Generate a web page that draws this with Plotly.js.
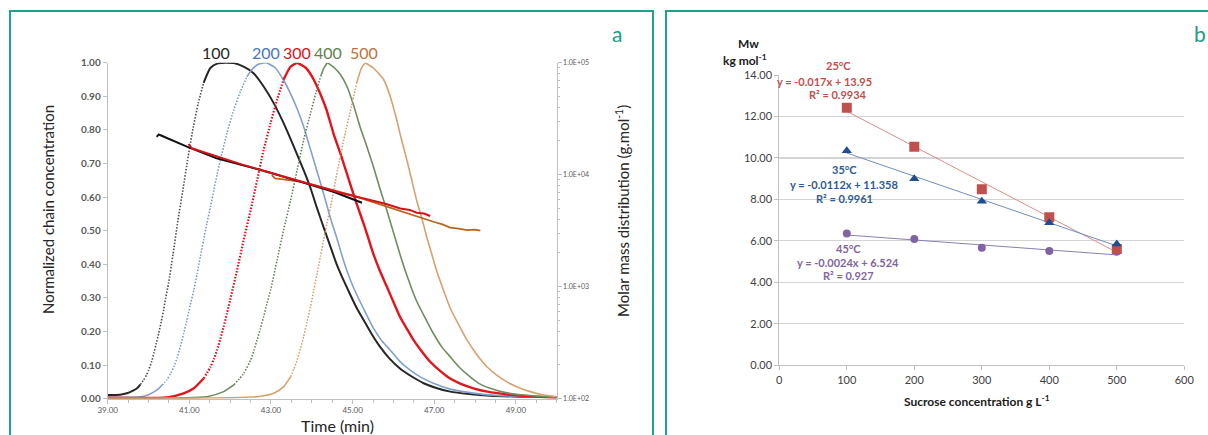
<!DOCTYPE html>
<html>
<head>
<meta charset="utf-8">
<script src="https://cdn.plot.ly/plotly-3.0.1.min.js"></script>
<style>html,body{margin:0;padding:0;background:#fff;}#chart{width:1208px;height:435px;}</style>
</head>
<body>
<div id="chart"></div>
<script>
// ---------- Panel a: normalized chain concentration vs time ----------
const c100RiseT = [39.0, 39.3, 39.47, 39.62, 39.72, 39.8, 39.88, 39.95, 40.0, 40.07, 40.13, 40.19, 40.25, 40.31, 40.37, 40.42, 40.49, 40.6, 40.72, 40.84, 40.97, 41.1, 41.22, 41.35, 41.52, 41.7, 41.9];
const c100RiseV = [0.011, 0.012, 0.016, 0.024, 0.031, 0.042, 0.056, 0.07, 0.085, 0.108, 0.135, 0.165, 0.195, 0.228, 0.264, 0.3, 0.343, 0.43, 0.53, 0.62, 0.72, 0.81, 0.88, 0.94, 0.985, 0.998, 1.0];
const c100FallT = [41.9, 42.09, 42.33, 42.58, 42.82, 43.07, 43.31, 43.56, 43.8, 43.96, 44.12, 44.29, 44.45, 44.61, 44.78, 44.94, 45.1, 45.27, 45.47, 45.67, 45.9, 46.16, 46.45, 46.74, 47.05, 47.39, 47.85, 48.37, 49.1, 50.0];
const c100FallV = [1.0, 0.999, 0.988, 0.968, 0.929, 0.879, 0.82, 0.75, 0.68, 0.63, 0.57, 0.51, 0.455, 0.40, 0.352, 0.31, 0.27, 0.234, 0.192, 0.155, 0.12, 0.09, 0.066, 0.046, 0.032, 0.021, 0.014, 0.009, 0.006, 0.004];

const c200RiseT = [39.0, 39.8, 40.0, 40.21, 40.33, 40.45, 40.54, 40.62, 40.7, 40.78, 40.86, 40.94, 41.02, 41.11, 41.19, 41.27, 41.35, 41.43, 41.52, 41.6, 41.68, 41.76, 41.92, 42.09, 42.25, 42.41, 42.55, 42.7, 42.9];
const c200RiseV = [0.004, 0.006, 0.012, 0.026, 0.04, 0.056, 0.075, 0.095, 0.122, 0.155, 0.193, 0.234, 0.278, 0.323, 0.372, 0.423, 0.473, 0.522, 0.572, 0.621, 0.667, 0.71, 0.79, 0.86, 0.914, 0.958, 0.982, 0.996, 1.0];
const c200FallT = [42.9, 43.1, 43.3, 43.47, 43.65, 43.8, 43.96, 44.12, 44.29, 44.45, 44.62, 44.78, 44.94, 45.1, 45.3, 45.51, 45.7, 45.92, 46.15, 46.41, 46.7, 46.98, 47.35, 47.72, 48.2, 48.78, 49.4, 50.0];
const c200FallV = [1.0, 0.985, 0.95, 0.91, 0.86, 0.81, 0.745, 0.68, 0.61, 0.54, 0.475, 0.41, 0.355, 0.31, 0.26, 0.21, 0.175, 0.145, 0.112, 0.085, 0.062, 0.046, 0.03, 0.021, 0.013, 0.008, 0.005, 0.004];

const c300RiseT = [39.0, 40.45, 40.86, 41.11, 41.35, 41.52, 41.6, 41.68, 41.76, 41.84, 41.92, 42.0, 42.17, 42.33, 42.5, 42.66, 42.82, 42.99, 43.15, 43.31, 43.48, 43.64];
const c300RiseV = [0.003, 0.004, 0.016, 0.031, 0.06, 0.095, 0.118, 0.145, 0.178, 0.214, 0.253, 0.294, 0.383, 0.472, 0.56, 0.65, 0.74, 0.82, 0.89, 0.95, 0.988, 1.0];
const c300FallT = [43.64, 43.85, 44.0, 44.2, 44.36, 44.53, 44.7, 44.86, 45.1, 45.3, 45.51, 45.67, 45.84, 46.0, 46.16, 46.33, 46.49, 46.7, 46.9, 47.15, 47.39, 47.65, 47.96, 48.3, 48.78, 49.4, 50.0];
const c300FallV = [1.0, 0.985, 0.96, 0.91, 0.86, 0.79, 0.73, 0.67, 0.58, 0.51, 0.43, 0.38, 0.333, 0.288, 0.244, 0.208, 0.175, 0.14, 0.11, 0.082, 0.06, 0.044, 0.031, 0.021, 0.013, 0.007, 0.004];

const c400RiseT = [39.0, 41.43, 41.84, 42.09, 42.33, 42.5, 42.58, 42.66, 42.74, 42.82, 42.9, 42.99, 43.15, 43.31, 43.48, 43.64, 43.8, 43.97, 44.1, 44.22, 44.3, 44.38];
const c400RiseV = [0.002, 0.006, 0.021, 0.041, 0.075, 0.115, 0.143, 0.175, 0.208, 0.244, 0.283, 0.323, 0.413, 0.502, 0.59, 0.68, 0.77, 0.85, 0.91, 0.96, 0.985, 1.0];
const c400FallT = [44.38, 44.55, 44.7, 44.86, 45.02, 45.18, 45.35, 45.51, 45.67, 45.84, 46.0, 46.16, 46.35, 46.57, 46.78, 46.98, 47.18, 47.39, 47.62, 47.88, 48.1, 48.37, 48.75, 49.19, 49.6, 50.0];
const c400FallV = [1.0, 0.985, 0.965, 0.93, 0.875, 0.81, 0.75, 0.69, 0.625, 0.56, 0.495, 0.43, 0.36, 0.29, 0.24, 0.194, 0.155, 0.125, 0.093, 0.065, 0.045, 0.031, 0.018, 0.011, 0.007, 0.004];

const c500RiseT = [39.0, 42.66, 43.07, 43.31, 43.48, 43.56, 43.64, 43.72, 43.8, 43.88, 43.97, 44.05, 44.13, 44.21, 44.29, 44.37, 44.46, 44.63, 44.8, 44.97, 45.1, 45.22, 45.31];
const c500RiseV = [0.001, 0.006, 0.016, 0.036, 0.065, 0.088, 0.115, 0.148, 0.185, 0.228, 0.274, 0.323, 0.373, 0.423, 0.472, 0.522, 0.571, 0.68, 0.78, 0.87, 0.94, 0.985, 1.0];
const c500FallT = [45.31, 45.5, 45.76, 45.92, 46.08, 46.2, 46.33, 46.45, 46.57, 46.7, 46.82, 46.94, 47.06, 47.22, 47.39, 47.6, 47.8, 48.05, 48.29, 48.53, 48.78, 49.05, 49.35, 49.65, 50.0];
const c500FallV = [1.0, 0.985, 0.95, 0.9, 0.83, 0.77, 0.71, 0.65, 0.59, 0.535, 0.48, 0.43, 0.38, 0.325, 0.27, 0.22, 0.175, 0.13, 0.095, 0.07, 0.05, 0.034, 0.021, 0.012, 0.006];

// Molar mass (g/mol, log right axis)
const mw100T = [40.20, 40.25, 40.28, 40.94, 41.67, 42.30, 42.90, 43.71, 44.53, 45.23];
const mw100M = [21800, 22900, 22600, 17800, 14000, 12200, 10640, 8670, 7050, 5620];
const mw300T = [40.98, 41.06, 41.30, 41.67, 42.30, 42.90, 43.50, 44.12, 44.70, 45.35, 45.80, 46.17, 46.40, 46.57, 46.75, 46.90];
const mw300M = [18800, 17200, 16100, 14500, 12300, 10640, 9200, 7820, 6900, 6030, 5500, 5000, 4850, 4580, 4500, 4280];
const mw500T = [43.02, 43.10, 43.30, 43.71, 44.10, 44.53, 45.00, 45.35, 45.80, 46.17, 46.60, 46.98, 47.20, 47.39, 47.60, 47.80, 48.00, 48.13];
const mw500M = [9930, 9270, 9100, 8670, 8000, 7300, 6550, 5940, 5250, 4670, 4200, 3800, 3600, 3365, 3300, 3205, 3230, 3160];

const peakLabels = ['100', '200', '300', '400', '500'];
const rightTickVals = [100, 1000, 10000, 100000];
const rightTickText = ['1.0E+02', '1.0E+03', '1.0E+04', '1.0E+05'];

// ---------- Panel b: Mw vs sucrose concentration ----------
const conc = [100, 200, 300, 400, 500];
const mw25 = [12.42, 10.54, 8.49, 7.14, 5.61];
const mw35 = [10.35, 9.00, 7.91, 6.87, 5.85];
const mw45 = [6.36, 6.09, 5.67, 5.51, 5.48];
const fit25 = {slope: -0.017, intercept: 13.95};
const fit35 = {slope: -0.0112, intercept: 11.358};
const fit45 = {slope: -0.0024, intercept: 6.524};

// ---------- helpers ----------
const W = 1208, H = 435;
const px = x => x / W;
const py = y => 1 - y / H;
const FONT = 'Lato, "Open Sans", sans-serif';

// split rising arrays into: solid baseline (v<lo), dotted middle, solid top (v>hi)
function splitRise(t, v, lo, hi) {
  let a = 0; while (a < v.length && v[a] < lo) a++;
  let b = a; while (b < v.length && v[b] < hi) b++;
  return {
    base: {t: t.slice(0, a + 1), v: v.slice(0, a + 1)},
    mid: {t: t.slice(a, b + 1), v: v.slice(a, b + 1)},
    top: {t: t.slice(b), v: v.slice(b)}
  };
}

const curves = [
  {rt: c100RiseT, rv: c100RiseV, ft: c100FallT, fv: c100FallV, dot: '#4d4d4d', solid: '#262626', w: 2, dw: 1.6, hi: 0.9},
  {rt: c200RiseT, rv: c200RiseV, ft: c200FallT, fv: c200FallV, dot: '#6f95cc', solid: '#7fa0d2', w: 1.6, dw: 1.5, hi: 0.93},
  {rt: c300RiseT, rv: c300RiseV, ft: c300FallT, fv: c300FallV, dot: '#e0101a', solid: '#e3141b', w: 2.4, dw: 2.2, hi: 0.93},
  {rt: c400RiseT, rv: c400RiseV, ft: c400FallT, fv: c400FallV, dot: '#5e7d4e', solid: '#6e8d5e', w: 1.6, dw: 1.5, hi: 0.93},
  {rt: c500RiseT, rv: c500RiseV, ft: c500FallT, fv: c500FallV, dot: '#d49866', solid: '#d9a06e', w: 1.6, dw: 1.5, hi: 0.93}
];

const traces = [];
const lineShape = {shape: 'spline', smoothing: 0.6};
curves.forEach(c => {
  const s = splitRise(c.rt, c.rv, 0.04, c.hi);
  traces.push({x: s.base.t, y: s.base.v, xaxis: 'x', yaxis: 'y', mode: 'lines', line: Object.assign({color: c.solid, width: c.w}, lineShape), hoverinfo: 'skip'});
  traces.push({x: s.mid.t, y: s.mid.v, xaxis: 'x', yaxis: 'y', mode: 'lines', line: Object.assign({color: c.dot, width: c.dw, dash: '1.5px,1.6px'}, lineShape), hoverinfo: 'skip'});
  traces.push({x: s.top.t, y: s.top.v, xaxis: 'x', yaxis: 'y', mode: 'lines', line: Object.assign({color: c.solid, width: c.w}, lineShape), hoverinfo: 'skip'});
  traces.push({x: c.ft, y: c.fv, xaxis: 'x', yaxis: 'y', mode: 'lines', line: Object.assign({color: c.solid, width: c.w}, lineShape), hoverinfo: 'skip'});
});

traces.push({x: mw500T, y: mw500M, xaxis: 'x', yaxis: 'y2', mode: 'lines', line: {color: '#b8651f', width: 1.8}, hoverinfo: 'skip'});
traces.push({x: mw100T, y: mw100M, xaxis: 'x', yaxis: 'y2', mode: 'lines', line: {color: '#111111', width: 2}, hoverinfo: 'skip'});
traces.push({x: mw300T, y: mw300M, xaxis: 'x', yaxis: 'y2', mode: 'lines', line: {color: '#d8101a', width: 2}, hoverinfo: 'skip'});

// panel b trend lines (from the printed equations) and points
const ends = [conc[0], conc[conc.length - 1]];
function fitLine(f) { return ends.map(x => f.slope * x + f.intercept); }
traces.push({x: ends, y: fitLine(fit25), xaxis: 'x2', yaxis: 'y3', mode: 'lines', line: {color: '#dc8e8b', width: 1}, hoverinfo: 'skip'});
traces.push({x: ends, y: fitLine(fit35), xaxis: 'x2', yaxis: 'y3', mode: 'lines', line: {color: '#6f8fbf', width: 1}, hoverinfo: 'skip'});
traces.push({x: ends, y: fitLine(fit45), xaxis: 'x2', yaxis: 'y3', mode: 'lines', line: {color: '#8a7fb0', width: 1}, hoverinfo: 'skip'});
traces.push({x: conc, y: mw45, xaxis: 'x2', yaxis: 'y3', mode: 'markers', marker: {symbol: 'circle', size: 8, color: '#8064a2'}, hoverinfo: 'skip'});
traces.push({x: conc, y: mw25, xaxis: 'x2', yaxis: 'y3', mode: 'markers', marker: {symbol: 'square', size: 10, color: '#c0504d'}, hoverinfo: 'skip'});
traces.push({x: conc, y: mw35, xaxis: 'x2', yaxis: 'y3', mode: 'markers', marker: {symbol: 'triangle-up', size: 9, color: '#1f4e8c'}, hoverinfo: 'skip'});

const axGray = '#bfbfbf';
const tickGray = '#595959';

const minorLog = [];
[100, 1000, 10000].forEach(d => { for (let m = 2; m <= 9; m++) minorLog.push(d * m); });

const ann = [];
function A(text, x, y, size, color, opts) {
  ann.push(Object.assign({text: text, x: px(x), y: py(y), xref: 'paper', yref: 'paper', showarrow: false,
    xanchor: 'center', yanchor: 'middle', font: {family: FONT, size: size, color: color}}, opts || {}));
}
function AB(text, x, y, size, color) { A(text, x, y, size, color); ann[ann.length - 1].font.weight = 'bold'; }

const peakX = [216, 266, 297, 328, 364];
const peakCol = ['#262626', '#4a76b8', '#d9141b', '#5f7f4f', '#c0713a'];
peakLabels.forEach((l, i) => A(l, peakX[i], 53, 16, peakCol[i]));
A('a', 617, 33, 21, '#21998b');
A('b', 1200, 33, 21, '#21998b');
A('Normalized chain concentration', 48, 210, 15, '#262626', {textangle: -90});
A('Molar mass distribution (g.mol<sup>-1</sup>)', 622, 211, 15, '#262626', {textangle: -90});
A('Time (min)', 337, 425, 16, '#262626');
AB('Mw', 748, 43, 12, '#1a1a1a');
AB('kg mol<sup>-1</sup>', 745, 60, 12, '#1a1a1a');
AB('Sucrose concentration g L<sup>-1</sup>', 977, 401, 12, '#1a1a1a');
AB('25°C', 838, 66, 11, '#c0504d');
AB('y = -0.017x + 13.95', 824, 81, 11, '#c0504d');
AB('R² = 0.9934', 838, 94, 11, '#c0504d');
AB('35°C', 844, 170, 11, '#2e5a94');
AB('y = -0.0112x + 11.358', 844, 184, 11, '#2e5a94');
AB('R² = 0.9961', 844, 198, 11, '#2e5a94');
AB('45°C', 848, 248, 11, '#8064a2');
AB('y = -0.0024x + 6.524', 848, 262, 11, '#8064a2');
AB('R² = 0.927', 848, 275, 11, '#8064a2');

const layout = {
  width: W, height: H, margin: {l: 0, r: 0, t: 0, b: 0},
  paper_bgcolor: '#ffffff', plot_bgcolor: 'rgba(0,0,0,0)', showlegend: false,
  font: {family: FONT},
  xaxis: {domain: [px(107.7), px(556.7)], range: [39, 50], anchor: 'y',
    tickvals: [39, 41, 43, 45, 47, 49], tickformat: '.2f', ticks: 'outside', ticklen: 4, tickcolor: axGray,
    showline: true, linecolor: axGray, linewidth: 1, showgrid: false, zeroline: false,
    tickfont: {size: 8, color: tickGray, family: FONT},
    minor: {ticks: 'outside', ticklen: 3, tickcolor: axGray, dtick: 0.5, showgrid: false}},
  yaxis: {domain: [py(398.7), py(62.7)], range: [0, 1], anchor: 'x', dtick: 0.1, tickformat: '.2f',
    ticks: 'outside', ticklen: 4, tickcolor: axGray, showline: true, linecolor: axGray, showgrid: false, zeroline: false,
    tickfont: {size: 10, color: tickGray, family: FONT, weight: 'bold'}},
  yaxis2: {overlaying: 'y', side: 'right', anchor: 'x', type: 'log', range: [2, 5],
    tickmode: 'array', tickvals: rightTickVals, ticktext: rightTickText, ticks: 'outside', ticklen: 4, tickcolor: axGray,
    showline: true, linecolor: axGray, showgrid: false, zeroline: false,
    tickfont: {size: 7, color: tickGray, family: FONT},
    minor: {tickmode: 'array', tickvals: minorLog, ticks: 'outside', ticklen: 2, tickcolor: axGray, showgrid: false}},
  xaxis2: {domain: [px(779.3), px(1184.3)], range: [0, 600], anchor: 'y3', dtick: 100, ticks: 'outside', ticklen: 4,
    tickcolor: axGray, showline: true, linecolor: axGray, showgrid: false, zeroline: false,
    tickfont: {size: 11, color: '#404040', family: FONT}},
  yaxis3: {domain: [py(365.3), py(75)], range: [0, 14], anchor: 'x2', dtick: 2, tickformat: '.2f', ticks: 'outside', ticklen: 4,
    tickcolor: axGray, showline: true, linecolor: axGray, showgrid: true, gridcolor: '#d4d4d4', gridwidth: 1.2, zeroline: false,
    tickfont: {size: 11, color: '#404040', family: FONT}},
  shapes: [
    {type: 'rect', xref: 'paper', yref: 'paper', x0: px(10), x1: px(653), y0: -0.2, y1: py(11), line: {color: '#21a090', width: 2}},
    {type: 'rect', xref: 'paper', yref: 'paper', x0: px(666), x1: 1.2, y0: -0.2, y1: py(11), line: {color: '#21a090', width: 2}}
  ],
  annotations: ann
};

Plotly.newPlot('chart', traces, layout, {staticPlot: true});
</script>
</body>
</html>
